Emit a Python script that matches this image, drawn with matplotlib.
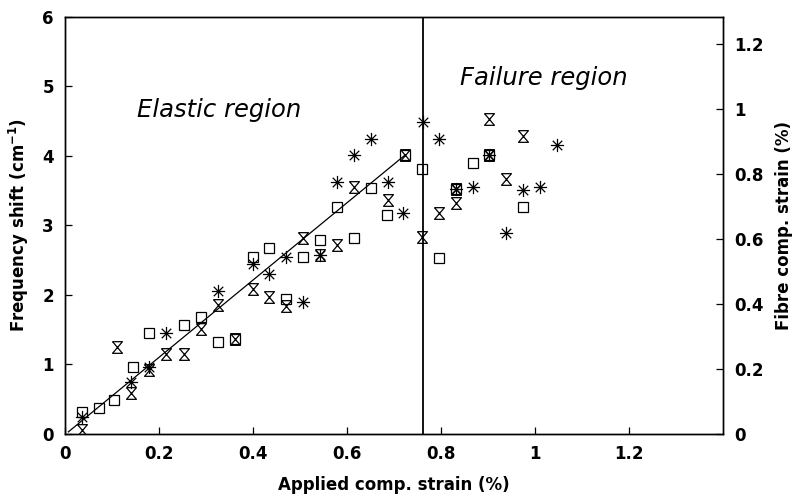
import numpy as np
import matplotlib
matplotlib.use("Agg")
import matplotlib.pyplot as plt
from matplotlib.path import Path
from matplotlib.ticker import FuncFormatter

# ----------------------------------------------------------------------
# data
# squares
sq_x = [0.036, 0.072, 0.104, 0.144, 0.179, 0.254, 0.289, 0.326, 0.362, 0.40,
        0.434, 0.470, 0.507, 0.543, 0.578, 0.615, 0.652, 0.685, 0.723, 0.759,
        0.796, 0.832, 0.867, 0.902, 0.974]
sq_y = [0.32, 0.37, 0.49, 0.96, 1.45, 1.57, 1.69, 1.33, 1.36, 2.55,
        2.68, 1.94, 2.55, 2.79, 3.27, 2.82, 3.54, 3.15, 4.01, 3.81,
        2.53, 3.52, 3.90, 4.01, 3.27]

# hourglasses
hg_x = [0.036, 0.110, 0.140, 0.179, 0.215, 0.253, 0.289, 0.326, 0.362, 0.400,
        0.434, 0.470, 0.507, 0.543, 0.578, 0.615, 0.687, 0.723, 0.759, 0.796,
        0.832, 0.832, 0.902, 0.902, 0.938, 0.974]
hg_y = [0.06, 1.25, 0.59, 0.92, 1.15, 1.15, 1.51, 1.86, 1.37, 2.09,
        1.97, 1.84, 2.82, 2.57, 2.72, 3.56, 3.36, 4.01, 2.84, 3.18,
        3.32, 3.52, 4.53, 4.01, 3.67, 4.28]

# asterisks
st_x = [0.036, 0.140, 0.179, 0.215, 0.326, 0.400, 0.434, 0.470, 0.506, 0.543,
        0.578, 0.615, 0.652, 0.687, 0.720, 0.761, 0.796, 0.832, 0.867, 0.902,
        0.938, 0.975, 1.010, 1.046]
st_y = [0.25, 0.75, 0.96, 1.45, 2.05, 2.45, 2.30, 2.55, 1.90, 2.58,
        3.63, 4.02, 4.24, 3.63, 3.18, 4.49, 4.24, 3.52, 3.56, 4.01,
        2.89, 3.51, 3.55, 4.16]

# straight fit through the elastic part
fit_x = [0.007, 0.723]
fit_y = [0.03, 4.01]

failure_strain = 0.761

x_ticks = [0, 0.2, 0.4, 0.6, 0.8, 1.0, 1.2]
y_ticks = [0, 1, 2, 3, 4, 5, 6]
y2_ticks = [0, 0.2, 0.4, 0.6, 0.8, 1.0, 1.2]

# ----------------------------------------------------------------------
# markers
hourglass = Path(
    [(-0.85, 1), (0.85, 1), (-0.85, -1), (0.85, -1), (-0.85, 1)],
    [Path.MOVETO, Path.LINETO, Path.LINETO, Path.LINETO, Path.LINETO],
)
d = 0.72
asterisk = Path(
    [(0, -1), (0, 1), (-1, 0), (1, 0), (-d, -d), (d, d), (-d, d), (d, -d)],
    [Path.MOVETO, Path.LINETO] * 4,
)

plt.rcParams["font.family"] = "DejaVu Sans"
plt.rcParams["font.weight"] = "bold"

fig = plt.figure(figsize=(7.96, 4.97), dpi=100)
ax = fig.add_axes([0.0817, 0.1268, 0.8266, 0.8392])
ax2 = ax.twinx()

style = dict(linestyle="none", color="black", markerfacecolor="none", markeredgewidth=0.9)
ax.plot(sq_x, sq_y, marker="s", markersize=7.2, **style)
ax.plot(hg_x, hg_y, marker=hourglass, markersize=8.4, **style)
ax.plot(st_x, st_y, marker=asterisk, markersize=9.5, **style)

ax.plot(fit_x, fit_y, color="black", linewidth=0.9)
ax.axvline(failure_strain, color="black", linewidth=1.3)

ax.set_xlim(0, 1.4)
ax.set_ylim(0, 6)
ax2.set_ylim(0, 1.283)

ax.set_xticks(x_ticks)
ax.set_yticks(y_ticks)
ax2.set_yticks(y2_ticks)
fmt = FuncFormatter(lambda v, pos: "{:g}".format(round(v, 2)))
ax.xaxis.set_major_formatter(fmt)
ax2.yaxis.set_major_formatter(fmt)

for a in (ax, ax2):
    a.tick_params(direction="in", length=5, width=0.9, labelsize=12, pad=8)
    for s in a.spines.values():
        s.set_linewidth(1.0)

ax.set_xlabel("Applied comp. strain (%)", fontsize=12, fontweight="bold", labelpad=9)
ax.set_ylabel(r"Frequency shift (cm$^{\mathbf{-1}}$)", fontsize=12, fontweight="bold", labelpad=8)
ax2.set_ylabel("Fibre comp. strain (%)", fontsize=12, fontweight="bold", labelpad=8)

# region labels
ax.text(0.153, 4.66, "Elastic region", fontsize=17.5, fontstyle="italic",
        fontweight="normal", va="center", ha="left")
ax.text(0.84, 5.12, "Failure region", fontsize=17.5, fontstyle="italic",
        fontweight="normal", va="center", ha="left")

fig.savefig("out.png", dpi=100)
